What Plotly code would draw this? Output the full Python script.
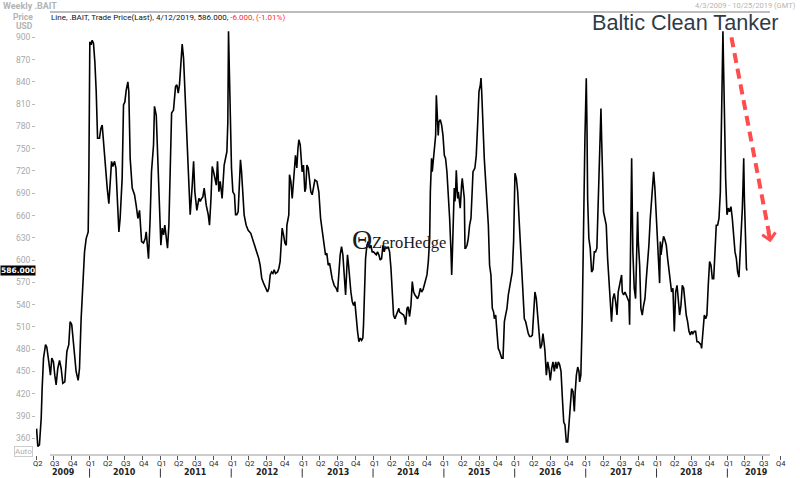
import numpy as np
import pandas as pd
import plotly.graph_objects as go

# ---------------- data (weekly .BAIT) ----------------
START_DATE = "2009-04-03"          # first observation
RANGE_START = "2009-03-31"
RANGE_END = "2019-10-25"

# weeks since START_DATE, and index values (USD)
weeks_2009_2011 = [
    0, 0.9, 2.1, 3.4, 4.1, 5.1, 6.6, 7.5, 9.0, 10.2,
    11.2, 12.4, 13.4, 14.4, 15.6, 16.9, 18.1, 19.3, 20.8, 22.3,
    23.7, 24.7, 25.9, 27.2, 29.1, 30.6, 31.6, 32.8, 34.0, 35.3,
    36.5, 38.0, 38.5, 39.0, 39.2, 40.2, 40.9, 41.9, 42.9, 43.9,
    44.9, 46.3, 47.3, 48.3, 49.3, 50.7, 52.0, 53.2, 54.2, 55.2,
    56.1, 57.4, 58.4, 59.3, 60.6, 61.5, 63.0, 64.0, 65.0, 66.0,
    67.2, 67.9, 68.9, 70.4, 72.1, 73.3, 74.6, 75.8, 77.3, 78.7,
    80.0, 80.7, 81.4, 82.4, 83.6, 84.6, 86.1, 86.8, 88.1, 89.3,
    90.5, 91.5, 92.5, 93.5, 94.4, 95.4, 96.4, 97.4, 98.4, 99.4,
    100.8, 102.3, 103.3, 104.3, 105.2, 106.2, 107.2, 108.2, 109.2, 110.2,
    111.6, 113.1, 114.6, 115.6, 116.5, 118.0, 119.5, 120.5, 121.5, 122.4,
    123.4, 124.9, 126.4, 127.3, 128.4, 129.3, 130.3, 131.3, 132.3, 133.2,
    134.2,
]
values_2009_2011 = [
    373, 349, 351, 387, 427, 468, 486, 483, 463, 445,
    468, 463, 445, 432, 454, 465, 454, 434, 436, 477,
    486, 517, 513, 486, 450, 438, 454, 521, 566, 611,
    629, 638, 719, 809, 894, 890, 896, 892, 867, 827,
    764, 764, 777, 782, 755, 728, 697, 676, 710, 733,
    726, 733, 724, 679, 638, 656, 710, 809, 813, 829,
    840, 827, 737, 697, 688, 674, 656, 667, 625, 623,
    629, 638, 625, 602, 656, 719, 755, 807, 795, 728,
    652, 620, 643, 634, 647, 629, 616, 647, 719, 798,
    802, 834, 836, 825, 836, 863, 891, 872, 827, 782,
    715, 661, 701, 733, 692, 667, 683, 679, 683, 685,
    697, 674, 661, 647, 683, 726, 719, 710, 701, 733,
    692,
]

weeks_2011_2014 = [
    135.2, 136.6, 138.1, 139.1, 140.1, 140.8, 141.3, 142.0, 142.8, 143.5,
    144.5, 145.7, 146.5, 147.4, 148.4, 149.4, 150.1, 150.9, 151.9, 152.8,
    154.3, 155.8, 157.7, 159.2, 160.7, 162.2, 163.6, 164.6, 165.8, 167.1,
    168.5, 170.0, 171.0, 172.0, 173.0, 174.0, 174.9, 175.9, 177.4, 178.4,
    179.3, 180.3, 180.8, 181.8, 182.8, 183.8, 184.3, 185.2, 185.7, 186.2,
    187.2, 188.2, 189.2, 189.9, 190.6, 191.6, 192.4, 193.1, 194.1, 194.8,
    195.5, 196.5, 197.5, 198.2, 199.0, 200.0, 201.0, 201.9, 202.9, 203.9,
    204.9, 206.4, 207.8, 209.1, 210.3, 211.3, 212.0, 212.7, 213.7, 214.7,
    215.7, 216.7, 217.6, 219.1, 220.6, 221.6, 222.6, 223.5, 224.5, 225.5,
    226.5, 227.5, 228.4, 228.9, 229.7, 230.4, 231.4, 232.4, 233.4, 234.3,
    235.3, 236.3, 237.3, 238.3, 239.3, 240.2, 240.7, 241.5, 242.2, 243.2,
    244.2, 245.1, 246.1, 247.1, 248.1, 249.1, 250.1, 251.0, 252.0, 253.0,
    254.0, 255.0, 255.9, 256.9, 257.9, 258.9, 259.9, 260.9, 261.8, 262.8,
    263.8, 265.3, 266.7,
]
values_2011_2014 = [
    706, 683, 728, 737, 746, 786, 908, 849, 782, 724,
    692, 688, 661, 661, 665, 701, 735, 719, 683, 661,
    647, 640, 636, 627, 618, 611, 602, 593, 575, 569,
    562, 557, 562, 580, 584, 582, 587, 582, 584, 589,
    598, 638, 643, 634, 623, 620, 647, 656, 661, 715,
    706, 683, 715, 724, 741, 724, 750, 762, 755, 737,
    719, 728, 692, 697, 728, 724, 706, 692, 688, 697,
    708, 706, 692, 656, 638, 629, 611, 607, 609, 593,
    596, 584, 575, 566, 562, 557, 593, 607, 618, 607,
    580, 553, 589, 607, 593, 575, 557, 544, 539, 544,
    521, 504, 490, 495, 492, 495, 513, 566, 602, 620,
    625, 616, 620, 611, 611, 609, 607, 611, 607, 600,
    602, 620, 611, 618, 616, 618, 611, 589, 557, 526,
    521, 530, 535,
]

weeks_2014_2016 = [
    267.3, 268.7, 270.2, 271.2, 271.7, 272.7, 273.6, 274.6, 275.6, 276.6,
    277.6, 278.6, 279.5, 280.5, 281.5, 282.5, 283.5, 284.5, 285.4, 286.4,
    287.4, 288.4, 289.4, 289.9, 290.3, 290.8, 291.3, 291.8, 292.3, 292.8,
    293.3, 293.8, 294.3, 294.8, 295.3, 295.7, 296.2, 297.2, 298.2, 299.2,
    300.2, 301.1, 302.1, 303.1, 304.1, 305.1, 305.6, 306.1, 306.5, 307.0,
    307.5, 308.0, 308.5, 309.0, 309.5, 310.0, 310.5, 311.0, 311.9, 312.9,
    313.4, 313.9, 314.9, 315.4, 315.9, 316.9, 317.8, 318.8, 319.8, 320.8,
    321.3, 322.7, 323.7, 324.7, 325.7, 326.7, 327.2, 327.7, 328.6, 329.6,
    331.1, 332.6, 333.5, 334.5, 335.5, 336.5, 337.0, 338.0, 338.9, 339.9,
    340.9, 342.4, 343.4, 344.4, 345.3, 346.3, 347.3, 348.3, 349.3, 350.2,
    351.2, 352.2, 353.2, 354.2, 355.2, 356.1, 357.1, 358.1, 359.1, 360.1,
    361.0, 362.0, 363.0, 364.0, 365.0, 366.0, 366.9, 367.9, 368.9, 369.9,
    370.9, 371.9, 372.8, 373.8, 374.3, 375.3, 376.3, 377.2, 378.2, 379.2,
    380.2, 381.2, 382.2, 383.1, 384.1, 385.1, 386.1, 387.1, 388.1, 389.0,
    390.0, 391.0, 392.0, 393.0, 393.9, 394.9, 395.9, 396.4, 397.4, 398.4,
    399.3,
]
values_2014_2016 = [
    530, 528, 526, 521, 513, 535, 537, 524, 539, 571,
    557, 553, 551, 548, 553, 562, 557, 560, 566, 575,
    580, 598, 629, 692, 732, 737, 719, 728, 737, 755,
    759, 768, 822, 800, 791, 768, 786, 789, 782, 768,
    741, 737, 719, 692, 656, 611, 580, 607, 647, 665,
    697, 679, 692, 721, 701, 683, 692, 679, 670, 701,
    710, 701, 683, 616, 616, 620, 629, 647, 656, 697,
    719, 724, 741, 782, 827, 836, 845, 827, 782, 737,
    692, 647, 593, 580, 535, 530, 521, 526, 504, 481,
    477, 468, 468, 517, 526, 535, 553, 562, 571, 584,
    625, 717, 710, 692, 656, 620, 580, 539, 521, 517,
    508, 501, 497, 497, 499, 526, 557, 548, 521, 495,
    481, 486, 501, 486, 477, 445, 463, 454, 438, 454,
    463, 450, 463, 454, 463, 459, 450, 414, 382, 378,
    355, 355, 378, 409, 427, 423, 396, 418, 445, 456,
    450,
]

weeks_2016_2019 = [
    399.8, 400.7, 401.7, 402.2, 402.7, 403.2, 403.7, 404.2, 404.7, 405.2,
    405.7, 406.6, 407.6, 408.6, 409.6, 410.6, 411.5, 412.5, 413.0, 414.0,
    415.0, 415.5, 416.0, 416.5, 417.4, 418.4, 419.4, 420.4, 421.4, 422.4,
    423.3, 424.3, 425.3, 426.3, 427.3, 428.2, 429.2, 430.2, 430.7, 431.2,
    432.2, 433.2, 434.1, 435.1, 436.1, 436.6, 437.6, 438.1, 438.6, 439.0,
    440.0, 441.0, 442.0, 442.5, 443.0, 444.0, 444.9, 445.9, 446.9, 447.9,
    448.9, 449.8, 450.8, 451.8, 452.8, 453.8, 454.3, 455.2, 456.2, 457.2,
    458.2, 458.7, 459.2, 459.7, 460.6, 461.6, 462.6, 463.6, 464.6, 465.6,
    466.5, 467.5, 468.5, 469.5, 470.5, 471.5, 472.4, 473.4, 474.4, 475.4,
    476.4, 477.3, 478.3, 479.3, 480.3, 481.3, 482.3, 483.2, 484.2, 485.2,
    486.2, 487.2, 488.1, 489.1, 489.6, 490.6, 491.6, 492.6, 493.5, 494.5,
    495.0, 495.5, 496.5, 497.5, 498.5, 499.4, 500.4, 501.4, 502.4, 503.4,
    504.3, 504.8, 505.3, 505.8, 506.3, 507.3, 508.3, 509.3, 510.2, 511.2,
    512.2, 513.2, 514.2, 515.2, 516.1, 517.1, 518.1, 519.1, 519.6, 520.1,
    520.6, 521.1, 521.6, 522.1, 522.6, 523.0,
]
values_2016_2019 = [
    436, 445, 521, 602, 679, 728, 764, 804, 845, 782,
    683, 629, 616, 584, 587, 611, 611, 616, 647, 719,
    768, 804, 764, 737, 665, 656, 647, 602, 566, 539,
    517, 548, 555, 544, 526, 557, 566, 575, 580, 557,
    553, 557, 553, 548, 544, 513, 647, 737, 665, 611,
    562, 548, 625, 665, 625, 593, 535, 526, 539, 548,
    575, 593, 620, 656, 683, 710, 719, 697, 665, 629,
    593, 569, 625, 607, 620, 632, 627, 620, 602, 584,
    566, 557, 562, 504, 557, 566, 548, 526, 539, 566,
    562, 544, 526, 517, 504, 499, 504, 501, 504, 504,
    490, 490, 488, 486, 481, 499, 526, 521, 526, 566,
    593, 598, 593, 575, 575, 602, 647, 647, 656, 692,
    804, 849, 908, 858, 782, 710, 661, 670, 665, 672,
    656, 634, 611, 602, 584, 577, 611, 638, 670, 701,
    737, 683, 647, 602, 589, 586,
]

y_ticks = list(range(360, 901, 30))
year_labels = list(range(2009, 2020))
last_close = "586.000"

# ---------------- build ----------------
weeks = np.array(weeks_2009_2011 + weeks_2011_2014 + weeks_2014_2016 + weeks_2016_2019)
values = values_2009_2011 + values_2011_2014 + values_2014_2016 + values_2016_2019
dates = pd.Timestamp(START_DATE) + pd.to_timedelta(weeks * 7, unit="D")

quarter_starts = pd.date_range("2009-04-01", "2019-10-01", freq="QS")
quarter_labels = [f"Q{q}" for q in quarter_starts.quarter]

W, H = 800, 478
ML, MR, MT, MB = 36, 15, 12, 23
PW, PH = W - ML - MR, H - MT - MB


def px(xp):
    return (xp - ML) / PW


def py(yp):
    return (H - MB - yp) / PH


fig = go.Figure()
fig.add_trace(go.Scatter(x=dates, y=values, mode="lines",
                         line=dict(color="black", width=1.6),
                         hoverinfo="skip"))

shapes = []
# panel border lines (top/bottom)
shapes.append(dict(type="line", xref="paper", yref="paper", x0=px(50), x1=px(770),
                   y0=1, y1=1, line=dict(color="#7a7a7a", width=1)))
shapes.append(dict(type="line", xref="paper", yref="paper", x0=px(50), x1=px(770),
                   y0=0, y1=0, line=dict(color="#9a9a9a", width=1)))
# year separators
for yr in year_labels[1:]:
    shapes.append(dict(type="line", xref="x", yref="paper",
                       x0=f"{yr}-01-01", x1=f"{yr}-01-01",
                       y0=py(468.5), y1=py(477.5),
                       line=dict(color="#333333", width=1)))
# red dashed arrow shaft
ARROW_START = ("2019-01-22", 900)
ARROW_END = ("2019-08-03", 637)
ARROW_TIP = ("2019-08-11", 624)
shapes.append(dict(type="line", xref="x", yref="y",
                   x0=ARROW_START[0], y0=ARROW_START[1],
                   x1=ARROW_END[0], y1=ARROW_END[1],
                   line=dict(color="#FF4D4D", width=4, dash="10px,6px")))

annotations = []
# quarter labels
for d, lab in zip(quarter_starts, quarter_labels):
    annotations.append(dict(x=d + pd.Timedelta(days=5), y=py(463.5), xref="x", yref="paper",
                            text=lab, showarrow=False, borderpad=0,
                            font=dict(family="Roboto", size=7.5, color="#222222"),
                            xanchor="center", yanchor="middle"))
# year labels, centred on the visible part of each year
r1 = pd.Timestamp(RANGE_END)
for yr in year_labels:
    a = max(pd.Timestamp(f"{yr}-01-01"), pd.Timestamp(START_DATE))
    b = min(pd.Timestamp(f"{yr + 1}-01-01"), r1)
    mid = a + (b - a) / 2
    annotations.append(dict(x=mid, y=py(472.8), xref="x", yref="paper",
                            text=f"<b>{yr}</b>", showarrow=False, borderpad=0,
                            font=dict(family="DejaVu Sans", size=8, color="#222222"),
                            xanchor="center", yanchor="middle"))

annotations += [
    dict(x=px(2), y=py(6), xref="paper", yref="paper", text="<b>Weekly .BAIT</b>",
         showarrow=False, xanchor="left", yanchor="middle", borderpad=0,
         font=dict(family="Roboto", size=9, color="#b4b4b4")),
    dict(x=px(23), y=py(17), xref="paper", yref="paper", text="<b>Price</b>",
         showarrow=False, xanchor="center", yanchor="middle", borderpad=0,
         font=dict(family="Roboto", size=8.5, color="#b4b4b4")),
    dict(x=px(24), y=py(26.5), xref="paper", yref="paper", text="<b>USD</b>",
         showarrow=False, xanchor="center", yanchor="middle", borderpad=0,
         font=dict(family="Roboto", size=8.5, color="#b4b4b4")),
    dict(x=px(797), y=py(5), xref="paper", yref="paper",
         text="4/3/2009 - 10/25/2019 (GMT)", borderpad=0,
         showarrow=False, xanchor="right", yanchor="middle",
         font=dict(family="Roboto", size=7.5, color="#b4b4b4")),
    dict(x=px(50), y=py(17.5), xref="paper", yref="paper",
         text="Line, .BAIT, Trade Price(Last), 4/12/2019, 586.000, "
              "<span style='color:#FF2A2A'>-6.000, (-1.01%)</span>",
         showarrow=False, xanchor="left", yanchor="middle", borderpad=0,
         font=dict(family="Roboto", size=8, color="#111111")),
    dict(x=px(779), y=py(22.5), xref="paper", yref="paper",
         text="Baltic Clean Tanker", showarrow=False, borderpad=0,
         xanchor="right", yanchor="middle",
         font=dict(family="Liberation Sans", size=21.7, color="#2f3b47")),
    dict(x=px(351), y=py(239.5), xref="paper", yref="paper", text="Θ",
         showarrow=False, xanchor="left", yanchor="middle", borderpad=0,
         font=dict(family="Liberation Serif", size=28, color="#1a1a1a")),
    dict(x=px(371), y=py(242.5), xref="paper", yref="paper", text="ZeroHedge",
         showarrow=False, xanchor="left", yanchor="middle", borderpad=0,
         font=dict(family="Liberation Serif", size=16.5, color="#1a1a1a")),
    dict(x=px(35.5), y=586, xref="paper", yref="y", text=f"<b>{last_close}</b>",
         showarrow=False, xanchor="right", yanchor="middle",
         bgcolor="black", borderpad=0,
         font=dict(family="DejaVu Sans", size=7.5, color="white")),
    dict(x=px(33), y=py(451), xref="paper", yref="paper", text="Auto",
         showarrow=False, xanchor="right", yanchor="middle",
         bordercolor="#cccccc", borderwidth=1, borderpad=0,
         font=dict(family="Roboto", size=8, color="#b0b0b0")),
    # arrow head
    dict(x=ARROW_TIP[0], y=ARROW_TIP[1], xref="x", yref="y", text="",
         showarrow=True, ax=-2.2, ay=-12, arrowhead=4, arrowsize=0.65,
         arrowwidth=4, arrowcolor="#FF4D4D"),
]

fig.update_layout(
    width=W, height=H,
    margin=dict(l=ML, r=MR, t=MT, b=MB, autoexpand=False),
    paper_bgcolor="white", plot_bgcolor="white",
    showlegend=False,
    shapes=shapes,
    annotations=annotations,
    xaxis=dict(type="date", range=[RANGE_START, RANGE_END],
               tickmode="array", tickvals=quarter_starts,
               showticklabels=False,
               ticks="outside", ticklen=4, tickcolor="#555555", tickwidth=1,
               showgrid=False, zeroline=False, showline=False),
    yaxis=dict(range=[337.5, 934.1], tickmode="array", tickvals=y_ticks,
               ticks="outside", ticklen=3, tickcolor="#bbbbbb",
               tickfont=dict(family="Roboto", size=8.5, color="#a8a8a8"),
               showgrid=False, zeroline=False, showline=False),
)

fig.write_html("out.html",
               config={"displayModeBar": False, "staticPlot": True},
               post_script="document.body.style.margin='0';"
                           "document.body.style.padding='0';"
                           "document.body.style.overflow='hidden';")
